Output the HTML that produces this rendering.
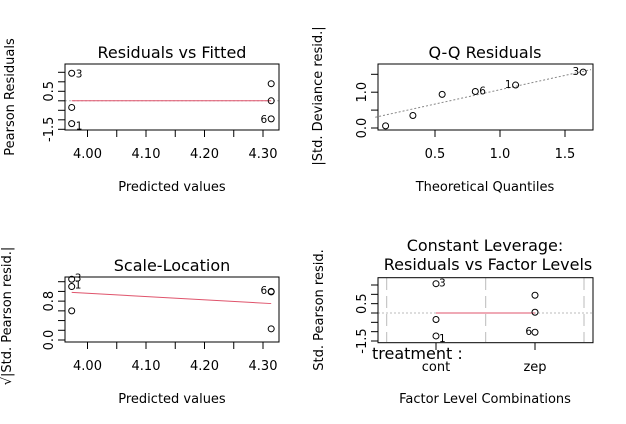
<!DOCTYPE html>
<html><head><meta charset="utf-8"><style>
html,body{margin:0;padding:0;background:#fff}
svg{display:block;font-family:"DejaVu Sans","Liberation Sans",sans-serif}
</style></head><body>
<svg id="c" width="626" height="424" viewBox="0 0 626 424" xmlns="http://www.w3.org/2000/svg"></svg>
<script>
// Panel 1: Residuals vs Fitted
const p1Fitted=[3.973,3.973,3.973,4.314,4.314,4.314];
const p1Resid=[1.45,-0.35,-1.2,0.9,0.0,-0.95];
const p1Labels=["3","","1","","","6"];
const p1XTicks=[4.00,4.05,4.10,4.15,4.20,4.25,4.30];
const p1XTickLabels=["4.00","","4.10","","4.20","","4.30"];
const p1YTicks=[1.5,1.0,0.5,0,-0.5,-1.0,-1.5];
const p1YTickLabels=["","","0.5","","","","-1.5"];
// Panel 2: Q-Q
const p2Theo=[0.12,0.33,0.555,0.81,1.12,1.64];
const p2Dev=[0.06,0.35,0.94,1.02,1.2,1.56];
const p2Labels=["","","","6","1","3"];
const p2XTicks=[0.5,1.0,1.5];
const p2YTicks=[0,0.5,1.0,1.5];
const p2YTickLabels=["0.0","","1.0",""];
const p2Line=[[0.04,0.3],[1.7,1.63]];
// Panel 3: Scale-Location
const p3Fitted=[3.973,3.973,3.973,4.314,4.314,4.314];
const p3Sqrt=[1.25,1.1,0.6,0.99,1.0,0.23];
const p3Labels=["3","1","","6","",""];
const p3Smooth=[[3.973,0.98],[4.314,0.75]];
const p3YTicks=[0,0.2,0.4,0.6,0.8,1.0,1.2];
const p3YTickLabels=["0.0","","","","0.8","",""];
// Panel 4: Residuals vs factor levels
const p4Levels=["cont","zep"];
const p4Group=[0,0,0,1,1,1];
const p4Resid=[1.57,-0.35,-1.23,0.95,0.04,-1.03];
const p4Labels=["3","","1","","","6"];
const p4YTicks=[1.5,1.0,0.5,0,-0.5,-1.0,-1.5];
const p4YTickLabels=["","","0.5","","","","-1.5"];

const svg=document.getElementById('c');
const NS='http://www.w3.org/2000/svg';
function mk(t,a,txt){const e=document.createElementNS(NS,t);for(const k in a)e.setAttribute(k,a[k]);if(txt!==undefined)e.textContent=txt;svg.appendChild(e);return e;}
function lin(d0,d1,r0,r1){return v=>r0+(v-d0)*(r1-r0)/(d1-d0);}

function frame(name,x0,y0,x1,y1){
  const r=mk('rect',{x:x0,y:y0,width:x1-x0,height:y1-y0,fill:'none',stroke:'#000','stroke-width':1});
  
  
}
function title(name,t,x,y){
  const e=mk('text',{x:x,y:y,'text-anchor':'middle','font-size':16},t);
  
  
}
function xlab(name,t,x,y){
  const e=mk('text',{x:x,y:y,'text-anchor':'middle','font-size':13},t);
  
  
}
function ylab(name,t,x,y){
  const e=mk('text',{x:0,y:0,'text-anchor':'middle','font-size':13,transform:`translate(${x},${y}) rotate(-90)`},t);
  
  
}
function yaxis(name,ticks,labels,sy,x0){
  ticks.forEach((t,i)=>{
    const y=sy(t);
    const l=mk('line',{x1:x0-7,x2:x0,y1:y,y2:y,stroke:'#000'});
    
    
    if(labels[i]){
      const e=mk('text',{x:0,y:0,'text-anchor':'middle','font-size':13,transform:`translate(${x0-12},${y}) rotate(-90)`},labels[i]);
      
      
    }
  });
}
function xaxis(name,ticks,labels,sx,y0){
  ticks.forEach((t,i)=>{
    const x=sx(t);
    const l=mk('line',{x1:x,x2:x,y1:y0,y2:y0+7,stroke:'#000'});
    
    
    if(labels[i]){
      const e=mk('text',{x:x,y:y0+28,'text-anchor':'middle','font-size':13},labels[i]);
      
      
    }
  });
}
function pt(name,x,y){
  const c=mk('circle',{cx:x,cy:y,r:3,fill:'none',stroke:'#000','stroke-width':1});
  
  
}
function lab(name,t,x,y,anchor){
  const e=mk('text',{x:x,y:y+4,'text-anchor':anchor,'font-size':10.5},t);
  
  
}

// ---- Panel 1
{
  const sx=lin(4.0,4.3,87.5,263), sy=lin(1.5,-1.5,72.3,129.3);
  const z=mk('line',{x1:65,x2:279,y1:sy(0),y2:sy(0),stroke:'#bbb','stroke-dasharray':'2,2'});
  
  const r=mk('line',{x1:sx(p1Fitted[0]),x2:sx(p1Fitted[3]),y1:sy(0),y2:sy(0),stroke:'#DF536B'});
  
  frame('residuals-vs-fitted',65,64,279,130);
  yaxis('p1-y-axis',p1YTicks,p1YTickLabels,sy,65);
  xaxis('p1-x-axis',p1XTicks,p1XTickLabels,sx,130);
  p1Fitted.forEach((f,i)=>{
    const x=sx(f),y=sy(p1Resid[i]);pt('p1-point-'+(i+1),x,y);
    if(p1Labels[i]) lab('p1-point-label',p1Labels[i],f<4.1?x+4:x-4,y+(f<4.1&&p1Resid[i]<0?2:0),f<4.1?'start':'end');
  });
  title('p1-title','Residuals vs Fitted',172,58);
  xlab('p1-x-axis-title','Predicted values',172,191);
  ylab('p1-y-axis-title','Pearson Residuals',14,97);
}
// ---- Panel 2
{
  const sx=lin(0.5,1.5,435,565), sy=lin(0,1.5,128,74.3);
  frame('qq-residuals',378,64,593,130);
  const l=mk('line',{x1:sx(p2Line[0][0]),y1:sy(p2Line[0][1]),x2:sx(p2Line[1][0]),y2:sy(p2Line[1][1]),stroke:'#888','stroke-dasharray':'2,2'});
  
  yaxis('p2-y-axis',p2YTicks,p2YTickLabels,sy,378);
  xaxis('p2-x-axis',p2XTicks,["0.5","1.0","1.5"],sx,130);
  p2Theo.forEach((q,i)=>{
    const x=sx(q),y=sy(p2Dev[i]);pt('p2-point-'+(i+1),x,y);
    if(p2Labels[i]) lab('p2-point-label',p2Labels[i],p2Labels[i]==='6'?x+4:x-4,y-1,p2Labels[i]==='6'?'start':'end');
  });
  title('p2-title','Q-Q Residuals',485,58);
  xlab('p2-x-axis-title','Theoretical Quantiles',485,191);
  ylab('p2-y-axis-title','|Std. Deviance resid.|',322,96);
}
// ---- Panel 3
{
  const sx=lin(4.0,4.3,87.5,263), sy=lin(0,1.2,340,281.7);
  frame('scale-location',65,277,279,342);
  const r=mk('line',{x1:sx(p3Smooth[0][0]),y1:sy(p3Smooth[0][1]),x2:sx(p3Smooth[1][0]),y2:sy(p3Smooth[1][1]),stroke:'#DF536B'});
  
  yaxis('p3-y-axis',p3YTicks,p3YTickLabels,sy,65);
  xaxis('p3-x-axis',p1XTicks,p1XTickLabels,sx,342);
  p3Fitted.forEach((f,i)=>{
    const x=sx(f),y=sy(p3Sqrt[i]);pt('p3-point-'+(i+1),x,y);
    if(p3Labels[i]) lab('p3-point-label',p3Labels[i],f<4.1?x+3:x-4,y-2,f<4.1?'start':'end');
  });
  title('p3-title','Scale-Location',172,271);
  xlab('p3-x-axis-title','Predicted values',172,403);
  ylab('p3-y-axis-title','\u221A|Std. Pearson resid.|',11,316);
}
// ---- Panel 4
{
  const sx=i=>436+i*99, sy=lin(1.5,-1.5,285,341);
  [386.7,485.7,584].forEach(x=>{
    const g=mk('line',{x1:x,x2:x,y1:278,y2:342,stroke:'#bbb','stroke-dasharray':'12,6'});
    
  });
  const z=mk('line',{x1:378,x2:593,y1:sy(0),y2:sy(0),stroke:'#bbb','stroke-dasharray':'2,2'});
  
  const r=mk('line',{x1:sx(0),x2:sx(1),y1:sy(0),y2:sy(0),stroke:'#DF536B'});
  
  frame('residuals-vs-factor-levels',378,277.7,593,342.7);
  yaxis('p4-y-axis',p4YTicks,p4YTickLabels,sy,378);
  p4Levels.forEach((lv,i)=>{
    const t=mk('line',{x1:sx(i),x2:sx(i),y1:342.7,y2:350,stroke:'#000'});
    
    const e=mk('text',{x:sx(i),y:371,'text-anchor':'middle','font-size':13},lv);
    
  });
  const tr=mk('text',{x:372,y:359,'font-size':16},'treatment :');
  
  p4Group.forEach((g,i)=>{
    const x=sx(g),y=sy(p4Resid[i]);pt('p4-point-'+(i+1),x,y);
    if(p4Labels[i]) lab('p4-point-label',p4Labels[i],g===0?x+3:x-3,y+(p4Resid[i]<0&&g===0?2:-1),g===0?'start':'end');
  });
  title('p4-title-line1','Constant Leverage:',485,251);
  title('p4-title-line2','Residuals vs Factor Levels',488,270);
  xlab('p4-x-axis-title','Factor Level Combinations',485,403);
  ylab('p4-y-axis-title','Std. Pearson resid.',323,310);
}
</script>
</body></html>
